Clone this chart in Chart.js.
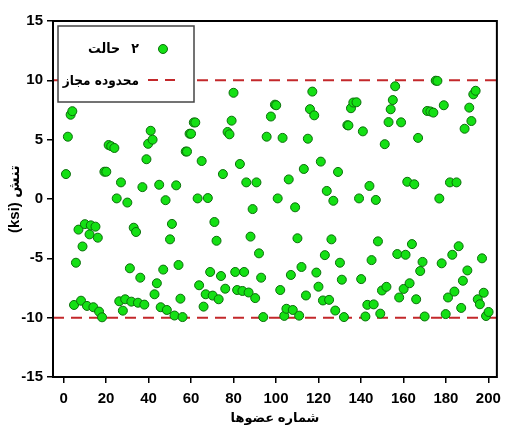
<!DOCTYPE html>
<html>
<head>
<meta charset="utf-8">
<script src="https://cdn.jsdelivr.net/npm/chart.js@4.4.1/dist/chart.umd.min.js"></script>
<style>
  body { margin: 0; background: #fff; }
  #contenedor { width: 508px; height: 428px; }
</style>
</head>
<body>
<div id="contenedor"><canvas id="tensiones"></canvas></div>
<script>
// datos
const memberNo = [
  1.1, 2.0, 3.3, 4.1, 4.9, 5.8, 7.0, 8.2, 8.9, 10.0,
  11.0, 12.2, 12.8, 14.0, 15.0, 16.1, 16.7, 18.1, 19.2, 20.1,
  21.2, 22.4, 23.9, 25.0, 26.2, 27.0, 27.9, 29.0, 30.0, 31.2,
  31.9, 33.0, 34.1, 35.0, 36.1, 37.1, 38.0, 39.0, 39.8, 41.0,
  41.9, 42.8, 43.9, 45.0, 45.7, 46.9, 48.0, 48.6, 50.1, 51.0,
  52.2, 53.0, 54.1, 55.0, 56.0, 57.5, 58.1, 59.3, 60.0, 61.3,
  62.0, 63.1, 63.8, 65.0, 65.9, 66.9, 67.9, 69.0, 70.2, 71.0,
  72.0, 73.0, 74.1, 75.0, 76.1, 77.2, 78.1, 79.1, 80.0, 80.8,
  81.7, 83.0, 84.2, 85.0, 86.0, 87.1, 88.0, 89.0, 90.2, 90.8,
  92.0, 93.0, 94.0, 95.6, 97.6, 99.5, 100.1, 100.8, 102.0, 103.1,
  103.9, 104.9, 106.0, 107.0, 107.9, 109.0, 110.1, 110.9, 112.0, 113.1,
  114.1, 115.0, 116.0, 117.1, 118.0, 119.0, 120.0, 121.1, 122.1, 123.0,
  123.9, 125.0, 126.1, 127.0, 127.9, 129.2, 130.1, 131.0, 132.0, 133.6,
  134.1, 135.3, 136.4, 137.9, 139.1, 140.1, 140.9, 142.1, 143.0, 144.0,
  145.0, 146.0, 147.0, 148.0, 149.1, 149.9, 151.2, 152.0, 153.0, 154.0,
  155.0, 156.1, 157.1, 158.0, 158.9, 160.1, 161.0, 161.8, 162.9, 164.0,
  165.1, 166.0, 166.9, 167.9, 169.0, 170.0, 171.2, 172.7, 174.1, 175.2,
  176.0, 176.9, 178.0, 179.0, 179.9, 181.0, 181.9, 183.0, 184.0, 185.0,
  186.0, 187.2, 188.0, 188.8, 190.1, 191.0, 192.0, 192.9, 194.0, 195.0,
  196.0, 197.0, 197.8, 198.9, 200.1
];
const stress = [
  2.1, 5.25, 7.1, 7.4, -8.93, -5.37, -2.58, -8.57, -4.0, -2.12,
  -9.01, -2.98, -2.22, -9.12, -2.33, -3.26, -9.49, -9.97, 2.3, 2.3,
  4.55, 4.45, 4.3, 0.05, -8.62, 1.4, -9.41, -8.45, -0.3, -5.84,
  -8.65, -2.42, -2.78, -8.74, -6.63, 1.0, -8.9, 3.35, 4.65, 5.75,
  5.0, -8.03, -7.1, 1.2, -9.12, -5.95, -0.1, -9.35, -3.4, -2.1,
  -9.82, 1.15, -5.56, -8.4, -9.95, 4.0, 4.0, 5.5, 5.5, 6.45,
  6.45, 0.05, -7.27, 3.2, -9.07, -8.03, 0.08, -6.15, -8.14, -1.94,
  -3.52, -8.45, -6.49, 2.1, -7.56, 5.65, 5.45, 6.6, 8.95, -6.15,
  -7.67, 2.95, -7.75, -6.15, 1.4, -7.88, -3.17, -0.85, -8.35, 1.4,
  -4.58, -6.63, -9.95, 5.25, 6.95, 7.95, 7.9, 0.05, -7.67, 5.15,
  -9.85, -9.25, 1.65, -6.4, -9.35, -0.7, -3.31, -9.83, -5.73, 2.53,
  -8.13, 5.08, 7.57, 9.05, 7.05, -6.2, -7.39, 3.15, -8.55, -4.73,
  0.68, -8.5, -3.4, -0.15, -9.4, 2.28, -5.37, -6.8, -9.95, 6.22,
  6.2, 7.65, 8.13, 8.15, 0.05, -6.75, 5.7, -9.9, -8.92, 1.1,
  -5.15, -8.88, -0.08, -3.57, -9.66, -7.71, 4.62, -7.4, 6.48, 7.56,
  8.34, 9.5, -4.64, -8.3, 6.46, -7.58, -4.7, 1.45, -7.1, -3.8,
  1.24, -8.45, 5.15, -6.07, -5.3, -9.9, 7.42, 7.38, 7.28, 9.97,
  9.95, 0.04, -5.42, 7.9, -9.7, -8.3, 1.4, -4.7, -7.8, 1.4,
  -3.98, -9.18, -6.89, 5.92, -6.02, 7.7, 6.57, 8.82, 9.12, -8.45,
  -8.87, -5.0, -7.9, -9.86, -9.52
];
const limitValues = [10, -10];            // محدوده مجاز
const xTicks = [0, 20, 40, 60, 80, 100, 120, 140, 160, 180, 200];
const yTicks = [-15, -10, -5, 0, 5, 10, 15];
const xRange = [-5, 204];
const yRange = [-15, 15];
const serieNombre = ['حالت', '۲'];
const limiteNombre = 'محدوده مجاز';

const verde = '#14e014';
const verdeBorde = '#0b6e0b';
const rojo = '#c3282b';
const fuente = '"Liberation Sans", "DejaVu Sans", sans-serif';
const fuenteFa = '"DejaVu Sans Condensed", "DejaVu Sans", sans-serif';

// puntos de la serie
const puntos = memberNo.map((x, i) => ({ x: x, y: stress[i] }));

// lineas de limite a lo ancho del eje x
const lineasLimite = limitValues.map(v => ({
    type: 'line',
    data: [{ x: xRange[0], y: v }, { x: xRange[1], y: v }],
    borderColor: rojo,
    borderWidth: 2,
    borderDash: [11, 7],
    pointRadius: 0,
    fill: false,
    order: 2
}));

// ajusta el tamaño de letra para que el texto quepa en el ancho dado
function fuenteAjustada(ctx, texto, ancho, maximo) {
    let t = maximo;
    ctx.font = 'bold ' + t + 'px ' + fuenteFa;
    while (t > 8 && ctx.measureText(texto).width > ancho) {
        t -= 0.5;
        ctx.font = 'bold ' + t + 'px ' + fuenteFa;
    }
    return t;
}

// marco y leyenda dibujados a mano
const marcoLeyenda = {
    id: 'marcoLeyenda',
    afterDraw(chart) {
        const ctx = chart.ctx;
        const a = chart.chartArea;
        ctx.save();
        ctx.strokeStyle = '#000';
        ctx.lineWidth = 2;
        ctx.strokeRect(a.left, a.top, a.right - a.left, a.bottom - a.top);

        const bx = a.left + 5, by = a.top + 5;
        ctx.fillStyle = '#fff';
        ctx.fillRect(bx, by, 136, 76);
        ctx.strokeStyle = '#444';
        ctx.lineWidth = 1.5;
        ctx.strokeRect(bx, by, 136, 76);

        // marcador
        ctx.beginPath();
        ctx.arc(bx + 105, by + 23, 4.5, 0, Math.PI * 2);
        ctx.fillStyle = verde;
        ctx.fill();
        ctx.strokeStyle = verdeBorde;
        ctx.lineWidth = 1;
        ctx.stroke();

        // linea discontinua
        ctx.beginPath();
        ctx.setLineDash([10, 7]);
        ctx.strokeStyle = rojo;
        ctx.lineWidth = 2;
        ctx.moveTo(bx + 90, by + 54);
        ctx.lineTo(bx + 124, by + 54);
        ctx.stroke();
        ctx.setLineDash([]);

        ctx.fillStyle = '#000';
        ctx.textBaseline = 'middle';
        ctx.textAlign = 'right';
        fuenteAjustada(ctx, limiteNombre, 77, 15);
        ctx.fillText(limiteNombre, bx + 81, by + 55);
        fuenteAjustada(ctx, serieNombre[0], 32, 15);
        ctx.fillText(serieNombre[0], bx + 62, by + 23);
        ctx.textAlign = 'center';
        ctx.font = 'bold 14px ' + fuenteFa;
        ctx.fillText(serieNombre[1], bx + 77, by + 23);
        ctx.restore();
    }
};

const ctx = document.getElementById('tensiones').getContext('2d');
const grafico = new Chart(ctx, {
    type: 'scatter',
    data: {
        datasets: [{
            label: serieNombre.join(' '),
            data: puntos,
            backgroundColor: verde,
            borderColor: verdeBorde,
            borderWidth: 1,
            pointRadius: 4.5,
            order: 1
        }].concat(lineasLimite)
    },
    options: {
        responsive: true,
        maintainAspectRatio: false,
        animation: false,
        layout: { padding: { left: 0, right: 5, top: 21, bottom: 0 } },
        scales: {
            x: {
                type: 'linear',
                min: xRange[0],
                max: xRange[1],
                afterBuildTicks: s => { s.ticks = xTicks.map(v => ({ value: v })); },
                afterFit: s => { s.height = 51; },
                grid: { drawOnChartArea: false, drawTicks: true, tickLength: 6, color: '#000', lineWidth: 1.5 },
                border: { display: false },
                ticks: { color: '#000', padding: 7, font: { family: fuente, size: 15, weight: 'bold' } },
                title: {
                    display: true,
                    text: 'شماره عضوها',
                    color: '#000',
                    padding: { top: 0, bottom: 2 },
                    font: { family: fuente, size: 13, weight: 'bold' }
                }
            },
            y: {
                min: yRange[0],
                max: yRange[1],
                afterBuildTicks: s => { s.ticks = yTicks.map(v => ({ value: v })); },
                afterFit: s => { s.width = 53; },
                grid: { drawOnChartArea: false, drawTicks: true, tickLength: 6, color: '#000', lineWidth: 1.5 },
                border: { display: false },
                ticks: { color: '#000', padding: 4, font: { family: fuente, size: 15, weight: 'bold' } },
                title: {
                    display: true,
                    text: '(ksi) تنش',
                    color: '#000',
                    padding: { top: 6, bottom: 0 },
                    font: { family: fuente, size: 15, weight: 'bold' }
                }
            }
        },
        plugins: {
            legend: { display: false },
            tooltip: { enabled: false }
        }
    },
    plugins: [marcoLeyenda]
});
</script>
</body>
</html>
